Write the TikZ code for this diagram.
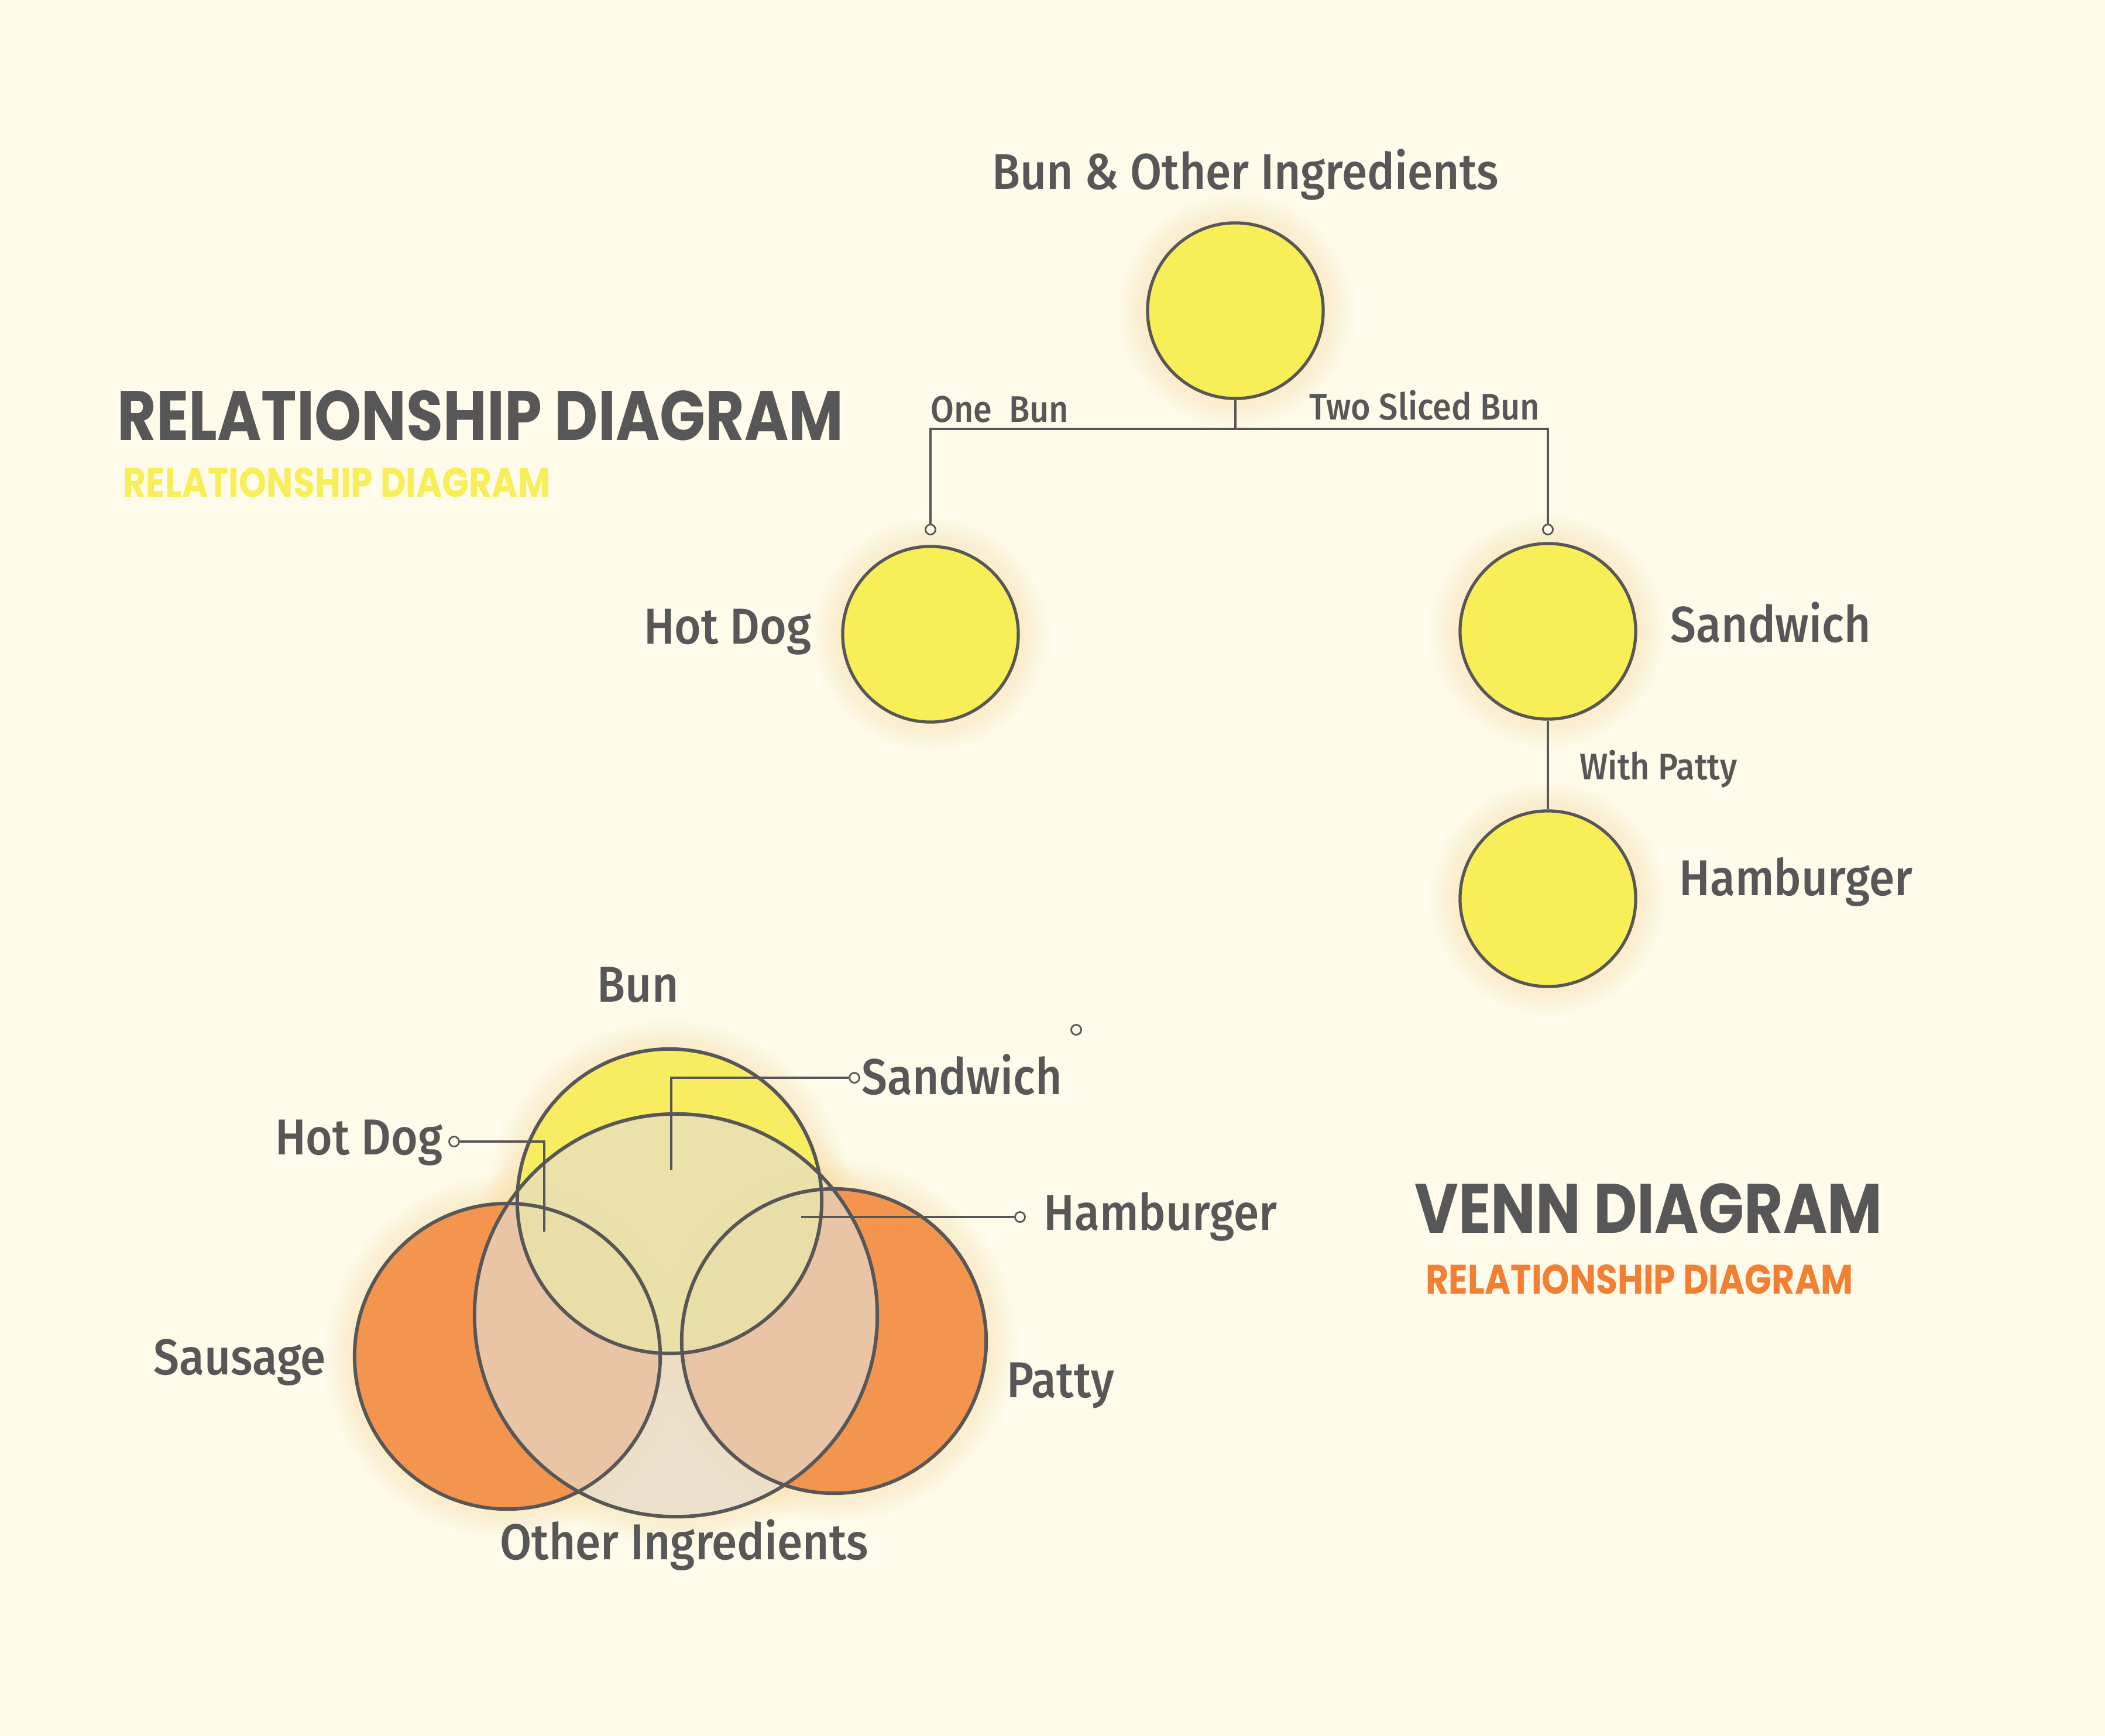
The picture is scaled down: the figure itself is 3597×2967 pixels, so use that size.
\documentclass[tikz,border=0pt]{standalone}
\usepackage{fontspec}
\setmainfont{Fira Sans}[UprightFont=* Medium, FakeStretch=0.91]
\newfontfamily\titlefont[FakeStretch=0.855]{Poppins}
\usepackage{tikz}
\usetikzlibrary{positioning, calc}
\definecolor{Cream}      {RGB}{254,251,234}
\definecolor{Charcoal}   {RGB}{87, 87, 87}
\definecolor{BunYellow}  {RGB}{248,238,87}
\definecolor{PattyOrange}{RGB}{243,148,79}
\definecolor{TitleOrange}{RGB}{242,127,50}
\definecolor{Veil}       {RGB}{229,220,205}
\definecolor{Glow}       {RGB}{250,222,160}

\begin{document}
\begin{tikzpicture}[x=0.01cm, y=-0.01cm,
    halo/.style={fill=Glow, opacity=0.055},
    bubble/.style={circle, draw=Charcoal, line width=1.5pt, fill=BunYellow,
      minimum size=3cm, inner sep=0pt},
    knob/.style={circle, draw=Charcoal, line width=0.8pt, fill=Cream,
      minimum size=0.17cm, inner sep=0pt},
    wire/.style={draw=Charcoal, line width=1.1pt},
    bigtxt/.style={text=Charcoal, font=\fontsize{24.5}{28}\selectfont, inner sep=0pt},
    smalltxt/.style={text=Charcoal, font=\fontsize{18}{22}\selectfont, inner sep=0pt},
    headline/.style={font=\titlefont\bfseries\fontsize{34}{40}\selectfont, inner sep=0pt},
    subline/.style={font=\titlefont\bfseries\fontsize{20}{24}\selectfont, inner sep=0pt}]
  \fill[Cream] (0,0) rectangle (3597,2967);
  \useasboundingbox (0,0) rectangle (3597,2967);

  % titles
  \node[headline, text=Charcoal, anchor=base west] (reltitle) at (200,752) {RELATIONSHIP DIAGRAM};
  \node[subline, text=BunYellow, anchor=base west] (relsub) at (210,849) {RELATIONSHIP DIAGRAM};
  \node[headline, text=Charcoal, anchor=base west] (venntitle) at (2417,2107) {VENN DIAGRAM};
  \node[subline, text=TitleOrange, anchor=base west] (vennsub) at (2436,2211) {RELATIONSHIP DIAGRAM};

  % relationship tree
  \foreach \name/\x/\y in {top/2111/531, hotdog/1590/1084, sandwich/2645/1079, hamburger/2645/1536}{
    \foreach \k in {1,...,8}
      \fill[halo] (\x,\y) circle[radius=1.5cm+\k*0.06cm];
    \node[bubble] (\name) at (\x,\y) {};
  }
  \coordinate (split) at (2111,733);
  \node[knob] (hotknob) at (1590,905) {};
  \node[knob] (sandknob) at (2645,905) {};
  \draw[wire] (top.south) -- (split);
  \draw[wire] (hotknob.north) |- (split) -| (sandknob.north);
  \draw[wire] (sandwich.south) -- (hamburger.north);

  \node[bigtxt, anchor=base] (toptxt) at (2128,324) {Bun \& Other Ingredients};
  \node[smalltxt, anchor=base west] (onebun) at (1590,721) {One\ \ Bun};
  \node[smalltxt, anchor=base east] (twobun) at (2632,717) {Two Sliced Bun};
  \node[bigtxt, anchor=base east] (hotdogtxt) at (1387,1100) {Hot Dog};
  \node[bigtxt, anchor=base west] (sandwichtxt) at (2854,1097) {Sandwich};
  \node[smalltxt, anchor=base west] (withpatty) at (2699,1332) {With Patty};
  \node[bigtxt, anchor=base west] (hamburgertxt) at (2869,1530) {Hamburger};

  % venn diagram
  \coordinate (sausage) at (867,2318);
  \coordinate (patty) at (1425,2292);
  \coordinate (bun) at (1144,2053);
  \coordinate (other) at (1155,2248);
  \foreach \c/\r in {sausage/2.61, patty/2.60, bun/2.60, other/3.44}{
    \foreach \k in {1,...,8}
      \fill[halo] (\c) circle[radius=\r cm+\k*0.06cm];
  }
  \fill[PattyOrange] (sausage) circle[radius=2.61cm];
  \fill[PattyOrange] (patty) circle[radius=2.60cm];
  \fill[BunYellow, fill opacity=0.9] (bun) circle[radius=2.60cm];
  \fill[Veil, fill opacity=0.69] (other) circle[radius=3.44cm];
  \foreach \c/\r in {sausage/2.61, patty/2.60, bun/2.60, other/3.44}{
    \draw[Charcoal, line width=1.7pt] (\c) circle[radius=\r cm];
  }

  \coordinate (sandtip) at (1147,2000);
  \coordinate (hottip) at (930,2105);
  \coordinate (burgtip) at (1369,2080);
  \node[knob] (vsandknob) at (1460,1842) {};
  \node[knob] (vhotknob) at (776,1951) {};
  \node[knob] (vburgknob) at (1743,2080) {};
  \node[knob] (loneknob) at (1839,1760) {};
  \draw[wire] (sandtip) |- (vsandknob);
  \draw[wire] (vhotknob) -| (hottip);
  \draw[wire] (burgtip) -- (vburgknob);

  \node[bigtxt, anchor=base west] (buntxt) at (1020,1712) {Bun};
  \node[bigtxt, anchor=base west] (vsandtxt) at (1472,1870) {Sandwich};
  \node[bigtxt, anchor=base east] (vhottxt) at (757,1973) {Hot Dog};
  \node[bigtxt, anchor=base west] (vburgtxt) at (1783,2102) {Hamburger};
  \node[bigtxt, anchor=base west] (sausagetxt) at (262,2349) {Sausage};
  \node[bigtxt, anchor=base west] (pattytxt) at (1720,2388) {Patty};
  \node[bigtxt, anchor=base west] (othertxt) at (854,2665) {Other Ingredients};
\end{tikzpicture}
\end{document}
